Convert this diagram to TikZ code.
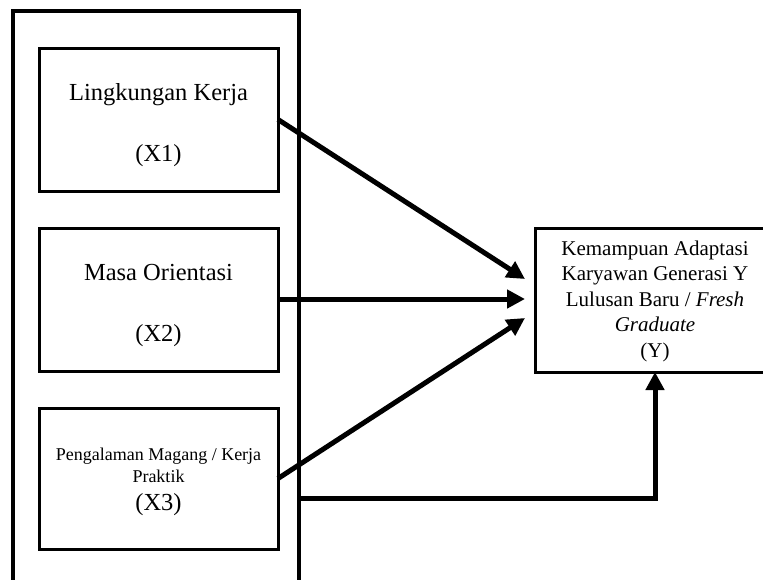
\documentclass[tikz,border=0pt]{standalone}
\usepackage{fontspec}
\setmainfont{Liberation Serif}
\usetikzlibrary{arrows.meta}
\begin{document}
\begin{tikzpicture}[x=1pt,y=-1pt,
  box/.style={draw, line width=3pt, minimum width=239pt, inner sep=0pt, outer sep=0pt, anchor=north west},
  big/.style={font=\fontsize{24.5}{28}\selectfont, anchor=base, inner sep=0pt},
  small/.style={font=\fontsize{18}{21}\selectfont, anchor=base, inner sep=0pt},
  ytxt/.style={font=\fontsize{21}{24}\selectfont, anchor=base, inner sep=0pt},
  arr/.style={line width=5pt, -{Triangle[length=18pt,width=18pt]}}
]
\useasboundingbox (0,0) rectangle (763,579);
\clip (0,0) rectangle (763,579);
\node[draw, line width=3.5pt, minimum width=286pt, minimum height=640pt, inner sep=0pt, outer sep=0pt, anchor=north west] (frame) at (13,11) {};
\node[box, minimum height=143pt] (x1) at (39,48) {};
\node[box, minimum height=143pt] (x2) at (39,228) {};
\node[box, minimum height=141pt] (x3) at (39,408) {};
\node[box, minimum width=240pt, minimum height=144pt] (y) at (535,228) {};
\node[big] (x1a) at (158.5,100) {Lingkungan Kerja};
\node[big] (x1b) at (158.5,161) {(X1)};
\node[big] (x2a) at (158.5,280) {Masa Orientasi};
\node[big] (x2b) at (158.5,341) {(X2)};
\node[small] (x3a) at (158.5,460) {Pengalaman Magang / Kerja};
\node[small] (x3b) at (158.5,482) {Praktik};
\node[big] (x3c) at (158.5,510) {(X3)};
\node[ytxt] (y1) at (655,255) {Kemampuan Adaptasi};
\node[ytxt] (y2) at (655,280.5) {Karyawan Generasi Y};
\node[ytxt] (y3) at (655,306) {Lulusan Baru / \textit{Fresh}};
\node[ytxt] (y4) at (655,331.5) {\textit{Graduate}};
\node[ytxt] (y5) at (655,357) {(Y)};
\coordinate (t1) at (525,279);
\coordinate (t2) at (525,299);
\coordinate (t3) at (525,318);
\coordinate (b0) at (299,498);
\draw[arr] (x1.east) -- (t1);
\draw[arr] (x2.east |- t2) -- (t2);
\draw[arr] (x3.east) -- (t3);
\draw[arr] (b0) -| (y.south);
\end{tikzpicture}
\end{document}
